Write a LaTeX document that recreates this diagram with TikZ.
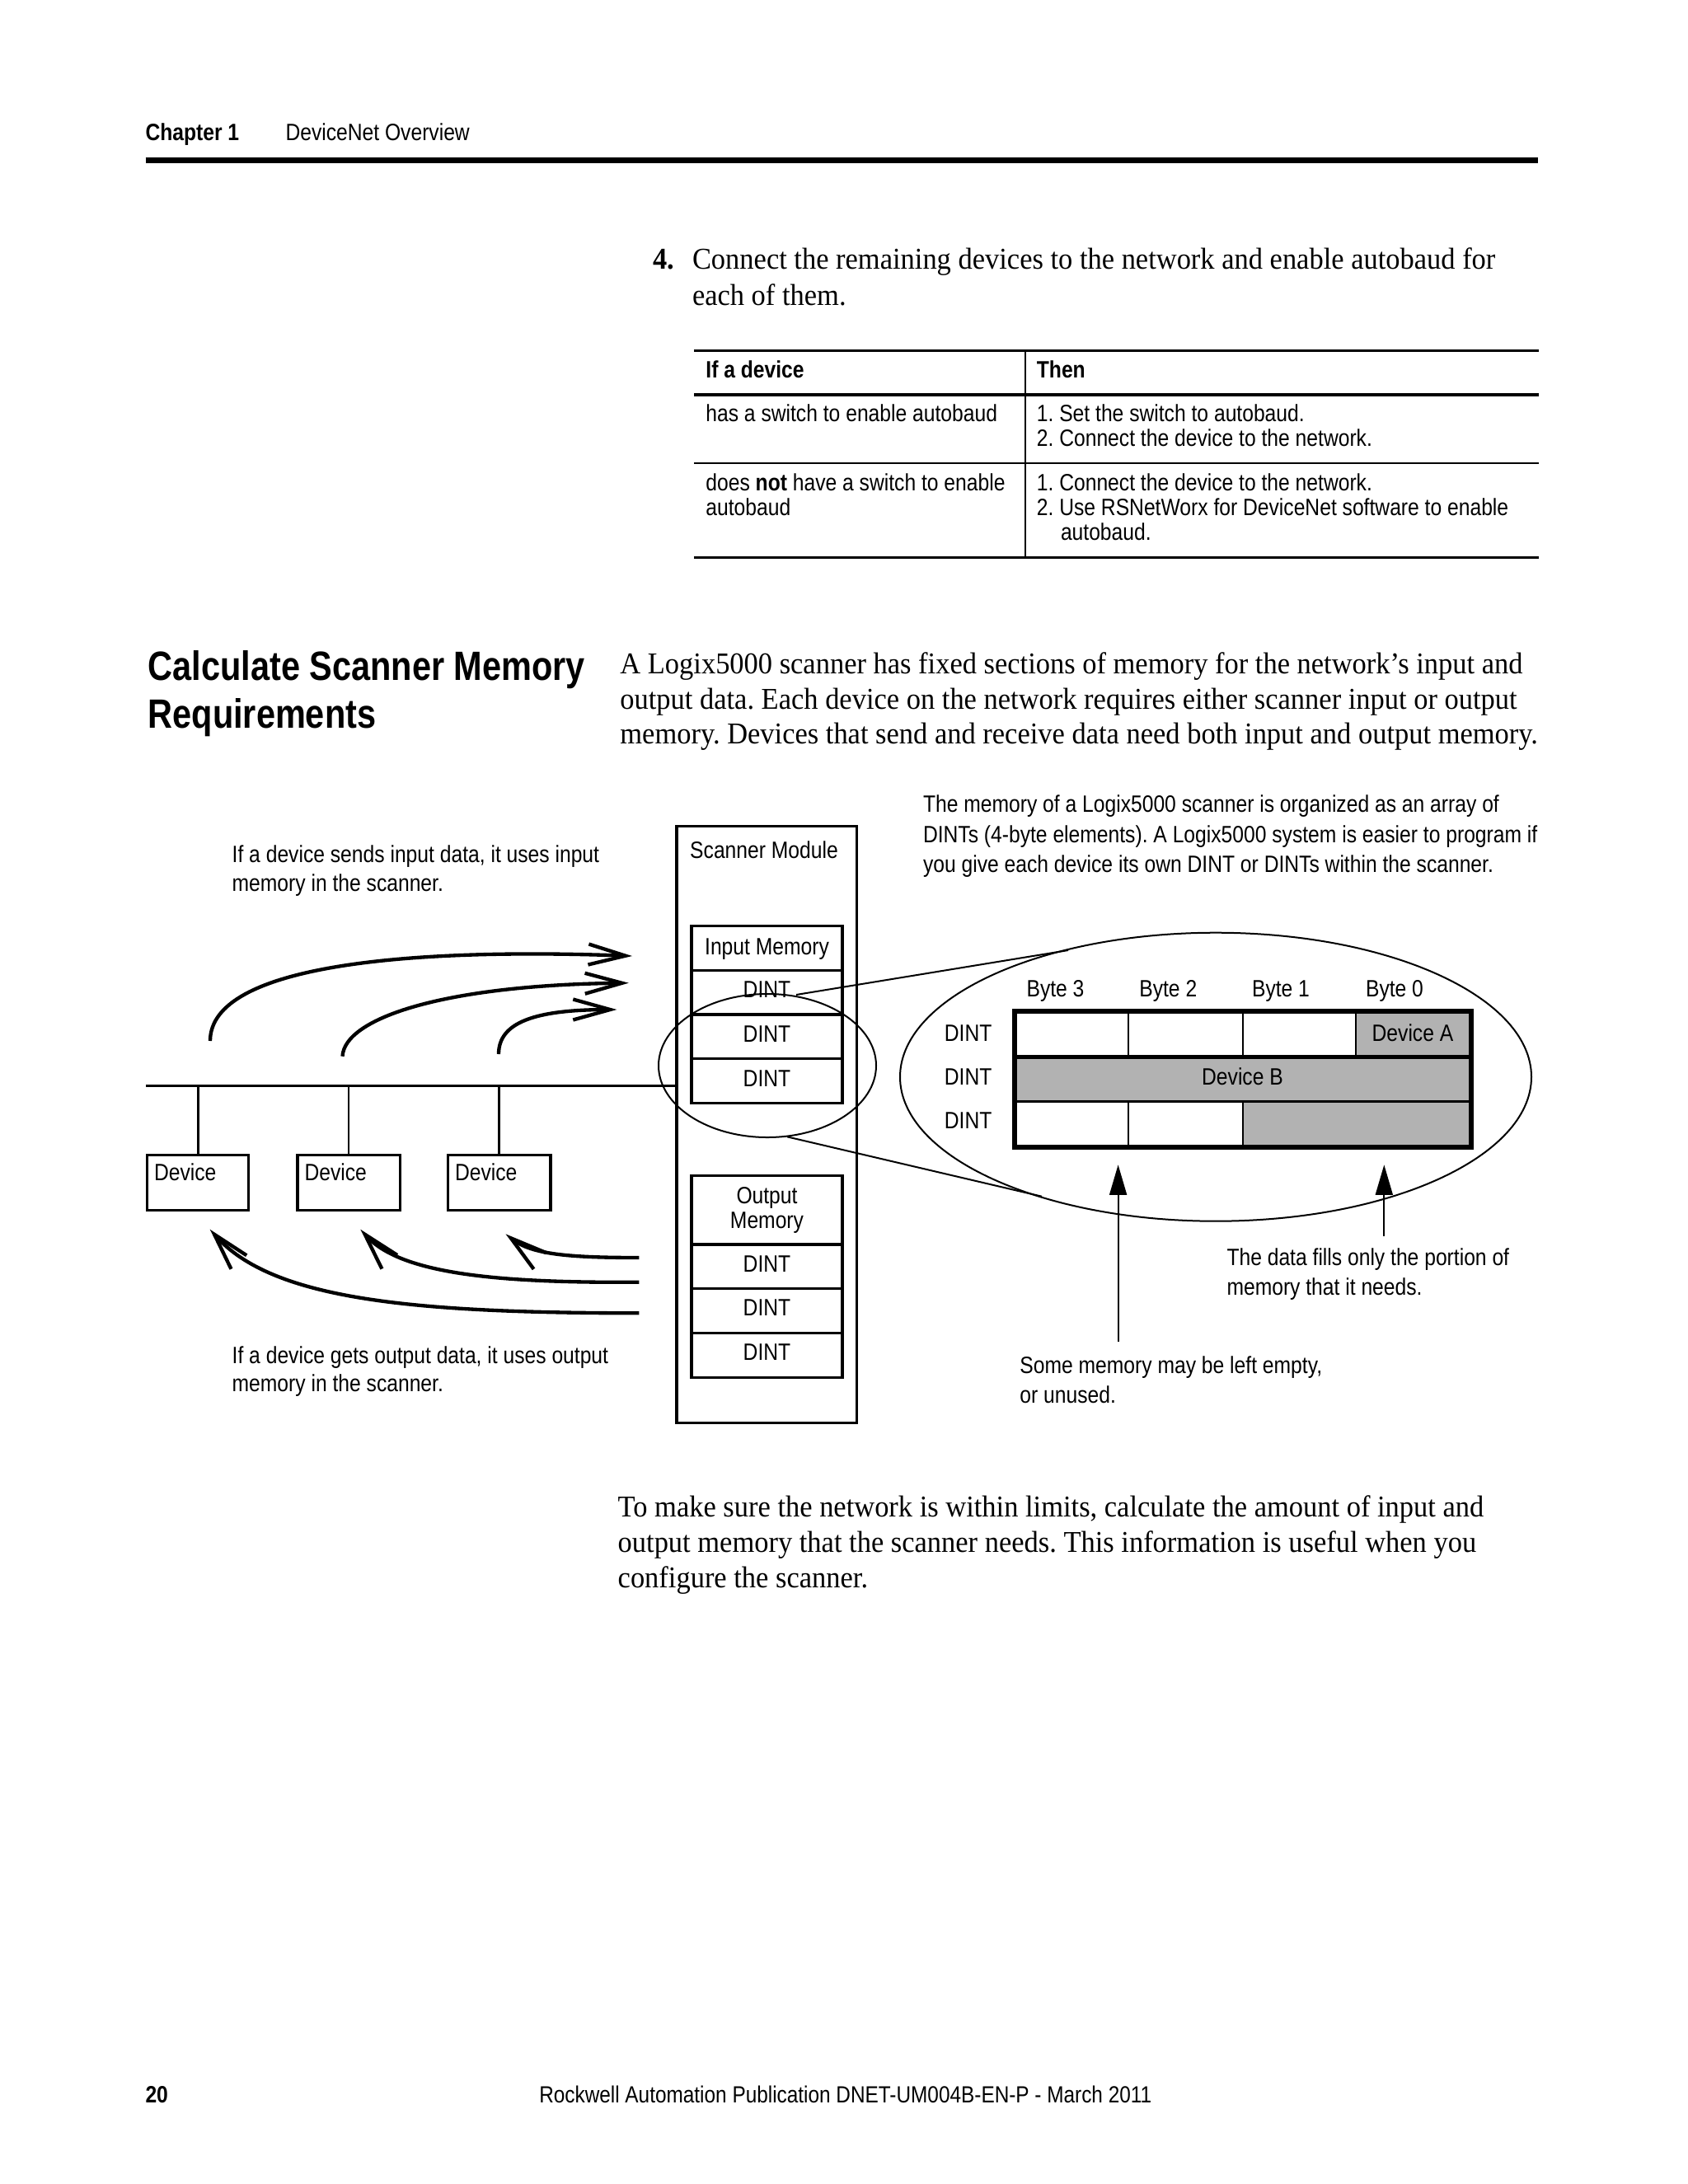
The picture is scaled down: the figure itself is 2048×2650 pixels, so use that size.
\documentclass[tikz,border=0pt]{standalone}
\usepackage{fontspec}
\usetikzlibrary{arrows.meta}
\frenchspacing
\newfontfamily\myCond[FakeStretch=0.86]{Liberation Sans}
\newfontfamily\myHead[FakeStretch=0.835]{Liberation Sans}
\newfontfamily\mySerif[FakeStretch=0.94]{Liberation Serif}
\newcommand\dfont{\myCond\fontsize{8.6}{10.8}\selectfont}
\newcommand\bodyfont{\mySerif\fontsize{11}{13}\selectfont}
\newcommand\headfont{\myHead\bfseries\fontsize{14.9}{17.5}\selectfont}
\newcommand\footfont{\myCond\fontsize{8.5}{10}\selectfont}
\definecolor{cellgray}{RGB}{178,178,178}
\tikzset{
 txt/.style={anchor=base west, inner sep=0pt, outer sep=0pt, font=\dfont},
 ctxt/.style={anchor=base, inner sep=0pt, outer sep=0pt, font=\dfont},
 btxt/.style={anchor=base west, inner sep=0pt, outer sep=0pt, font=\bodyfont},
 htxt/.style={anchor=base west, inner sep=0pt, outer sep=0pt, font=\headfont},
 rulethick/.style={line width=1pt},
 rulethin/.style={line width=0.6pt},
 boxln/.style={draw, line width=1pt},
 thinln/.style={line width=0.6pt},
 curvearr/.style={line width=1.3pt, -{Straight Barb[length=13.5pt,width=7.5pt]}},
 uparr/.style={line width=0.6pt, -{Triangle[length=11pt,width=6.3pt]}},
}
\begin{document}
\begin{tikzpicture}[x=0.010542cm, y=-0.010542cm]
\useasboundingbox (0,0) rectangle (2048,2650);
\fill[white] (0,0) rectangle (2048,2650);

% ---------- header ----------
\node[txt, font=\dfont\bfseries] (chap) at (176.5,170.7) {Chapter 1};
\node[txt] (chaptitle) at (346.5,170.7) {DeviceNet Overview};
\draw[line width=2.1pt] (176.5,194) -- (1866,194);

% ---------- step 4 ----------
\node[btxt, font=\bodyfont\bfseries] (s4num) at (792,326.7) {4.};
\node[btxt] (s4l1) at (840,326.7) {Connect the remaining devices to the network and enable autobaud for};
\node[btxt] (s4l2) at (840,370) {each of them.};

% ---------- table ----------
\draw[rulethick] (842,425.7) -- (1867,425.7);
\draw[rulethick] (842,479) -- (1867,479);
\draw[rulethin] (842,562.3) -- (1867,562.3);
\draw[rulethick] (842,676.7) -- (1867,676.7);
\draw[rulethin] (1243.6,425.7) -- (1243.6,676.7);
\node[txt, font=\dfont\bfseries] (th1) at (856.4,458.3) {If a device};
\node[txt, font=\dfont\bfseries] (th2) at (1257.9,458.3) {Then};
\node[txt] (r1a) at (856.4,511.7) {has a switch to enable autobaud};
\node[txt] (r1b) at (1257.9,511.7) {1. Set the switch to autobaud.};
\node[txt] (r1c) at (1257.9,541.7) {2. Connect the device to the network.};
\node[txt] (r2a) at (856.4,595) {does \textbf{not} have a switch to enable};
\node[txt] (r2b) at (856.4,625) {autobaud};
\node[txt] (r2c) at (1257.9,595) {1. Connect the device to the network.};
\node[txt] (r2d) at (1257.9,625) {2. Use RSNetWorx for DeviceNet software to enable};
\node[txt] (r2e) at (1287,655) {autobaud.};

% ---------- section ----------
\node[htxt] (h1) at (179.7,825) {Calculate Scanner Memory};
\node[htxt] (h2) at (179.7,883.3) {Requirements};
\node[btxt] (p1) at (752.4,817) {A Logix5000 scanner has fixed sections of memory for the network’s input and};
\node[btxt] (p2) at (752.4,860) {output data. Each device on the network requires either scanner input or output};
\node[btxt] (p3) at (752.4,902.7) {memory. Devices that send and receive data need both input and output memory.};

% ---------- diagram: annotations ----------
\node[txt] (in1) at (281.7,1046) {If a device sends input data, it uses input};
\node[txt] (in2) at (281.7,1081.7) {memory in the scanner.};
\node[txt] (out1) at (281.7,1654) {If a device gets output data, it uses output};
\node[txt] (out2) at (281.7,1688.3) {memory in the scanner.};
\node[txt] (mem1) at (1120,985) {The memory of a Logix5000 scanner is organized as an array of};
\node[txt] (mem2) at (1120,1022.7) {DINTs (4-byte elements). A Logix5000 system is easier to program if};
\node[txt] (mem3) at (1120,1058.3) {you give each device its own DINT or DINTs within the scanner.};
\node[txt] (fill1) at (1488.5,1535) {The data fills only the portion of};
\node[txt] (fill2) at (1488.5,1571.7) {memory that it needs.};
\node[txt] (emp1) at (1237.4,1666) {Some memory may be left empty,};
\node[txt] (emp2) at (1237.4,1702.7) {or unused.};

% ---------- scanner module ----------
\draw[boxln] (821,1002.7) rectangle (1039.5,1726.7);
\node[ctxt] (scan) at (927,1041.7) {Scanner Module};
% input memory
\draw[boxln] (839,1123.3) rectangle (1022,1338.3);
\draw[boxln] (839,1177.7) -- (1022,1177.7);
\draw[boxln] (839,1231) -- (1022,1231);
\draw[boxln] (839,1284.3) -- (1022,1284.3);
\node[ctxt] (inmem) at (930.5,1158.3) {Input Memory};
\node[ctxt] (id1) at (930.5,1210.7) {DINT};
\node[ctxt] (id2) at (930.5,1264) {DINT};
\node[ctxt] (id3) at (930.5,1318.3) {DINT};
% output memory
\draw[boxln] (839,1426.7) rectangle (1022,1671.7);
\draw[boxln] (839,1510) -- (1022,1510);
\draw[boxln] (839,1563.3) -- (1022,1563.3);
\draw[boxln] (839,1617.7) -- (1022,1617.7);
\node[ctxt] (outmem1) at (930.5,1460) {Output};
\node[ctxt] (outmem2) at (930.5,1490) {Memory};
\node[ctxt] (od1) at (930.5,1543.3) {DINT};
\node[ctxt] (od2) at (930.5,1596.7) {DINT};
\node[ctxt] (od3) at (930.5,1650) {DINT};

% ---------- network ----------
\coordinate (busL) at (177,1317.7);
\coordinate (busR) at (821,1317.7);
\draw[line width=1pt] (busL) -- (busR);
\coordinate (tap1) at (240.4,1317.7);
\coordinate (tap2) at (423,1317.7);
\coordinate (tap3) at (605.5,1317.7);
\coordinate (dev1top) at (240.4,1401.7);
\coordinate (dev2top) at (423,1401.7);
\coordinate (dev3top) at (605.5,1401.7);
\draw[line width=0.75pt] (tap1) -- (dev1top);
\draw[line width=0.75pt] (tap2) -- (dev2top);
\draw[line width=0.75pt] (tap3) -- (dev3top);
\draw[boxln] (178.4,1401.7) rectangle (301.8,1468.3);
\draw[boxln] (361,1401.7) rectangle (485.5,1468.3);
\draw[boxln] (543.5,1401.7) rectangle (668,1468.3);
\node[txt] (dev1) at (187,1432) {Device};
\node[txt] (dev2) at (369.5,1432) {Device};
\node[txt] (dev3) at (552,1432) {Device};

% ---------- curved arrows (input) ----------
\coordinate (i1s) at (255,1263);   \coordinate (i1e) at (767,1160);
\coordinate (i2s) at (415.5,1281.7); \coordinate (i2e) at (762.8,1192.7);
\coordinate (i3s) at (605,1279);   \coordinate (i3e) at (748.4,1225);
\draw[curvearr] (i1s) .. controls (255,1170) and (500,1150) .. (i1e);
\draw[curvearr] (i2s) .. controls (418,1235) and (540,1195) .. (i2e);
\draw[curvearr] (i3s) .. controls (605,1240) and (650,1225) .. (i3e);

% ---------- curved arrows (output) ----------
\coordinate (o1s) at (775.4,1593.3); \coordinate (o1e) at (254.7,1491.7);
\coordinate (o2s) at (775.4,1555.7); \coordinate (o2e) at (437.3,1491.7);
\coordinate (o3s) at (775.4,1526);   \coordinate (o3e) at (613.5,1497.3);
\draw[curvearr] (o1s) .. controls (500,1593) and (330,1577) .. (o1e);
\draw[curvearr] (o2s) .. controls (600,1557) and (485,1545) .. (o2e);
\draw[curvearr] (o3s) .. controls (690,1526) and (645,1522) .. (o3e);

% ---------- magnifier ----------
\draw[thinln] (931,1293) ellipse [x radius=132, y radius=87];
\draw[thinln] (1475,1306.7) ellipse [x radius=383, y radius=175];
\coordinate (t1a) at (966,1207);   \coordinate (t1b) at (1296,1153);
\coordinate (t2a) at (955,1379.3); \coordinate (t2b) at (1264,1451.7);
\draw[thinln] (t1a) -- (t1b);
\draw[thinln] (t2a) -- (t2b);

% ---------- memory grid ----------
\fill[cellgray] (1645,1227.3) rectangle (1784.6,1282.3);
\fill[cellgray] (1231,1282.3) rectangle (1784.6,1336.7);
\fill[cellgray] (1507.5,1336.7) rectangle (1784.6,1392.3);
\draw[thinln] (1369.3,1227.3) -- (1369.3,1282.3);
\draw[thinln] (1507.5,1227.3) -- (1507.5,1282.3);
\draw[thinln] (1645,1227.3) -- (1645,1282.3);
\draw[thinln] (1369.3,1336.7) -- (1369.3,1392.3);
\draw[thinln] (1507.5,1336.7) -- (1507.5,1392.3);
\draw[line width=1.5pt] (1231,1282.3) -- (1784.6,1282.3);
\draw[line width=0.9pt] (1231,1336.7) -- (1784.6,1336.7);
\draw[line width=1.8pt] (1231,1227.3) rectangle (1784.6,1392.3);
\node[ctxt] (b3) at (1280.5,1209) {Byte 3};
\node[ctxt] (b2) at (1417.3,1209) {Byte 2};
\node[ctxt] (b1) at (1554,1209) {Byte 1};
\node[ctxt] (b0) at (1692,1209) {Byte 0};
\node[ctxt] (gd1) at (1174.6,1263.3) {DINT};
\node[ctxt] (gd2) at (1174.6,1316.7) {DINT};
\node[ctxt] (gd3) at (1174.6,1369.3) {DINT};
\node[ctxt] (devA) at (1714,1263.3) {Device A};
\node[ctxt] (devB) at (1507.5,1316.7) {Device B};

% ---------- pointer arrows ----------
\coordinate (ua1s) at (1356.6,1628.3); \coordinate (ua1e) at (1356.6,1413.3);
\coordinate (ua2s) at (1679.3,1500);   \coordinate (ua2e) at (1679.3,1413.3);
\draw[uparr] (ua1s) -- (ua1e);
\draw[uparr] (ua2s) -- (ua2e);

% ---------- closing paragraph ----------
\node[btxt] (q1) at (749.7,1840) {To make sure the network is within limits, calculate the amount of input and};
\node[btxt] (q2) at (749.7,1883) {output memory that the scanner needs. This information is useful when you};
\node[btxt] (q3) at (749.7,1926) {configure the scanner.};

% ---------- footer ----------
\node[txt, font=\dfont\bfseries] (pg) at (176.5,2551.7) {20};
\node[anchor=base west, inner sep=0pt, font=\footfont] (foot) at (653.6,2551.7) {Rockwell Automation Publication DNET-UM004B-EN-P - March 2011};
\end{tikzpicture}
\end{document}
